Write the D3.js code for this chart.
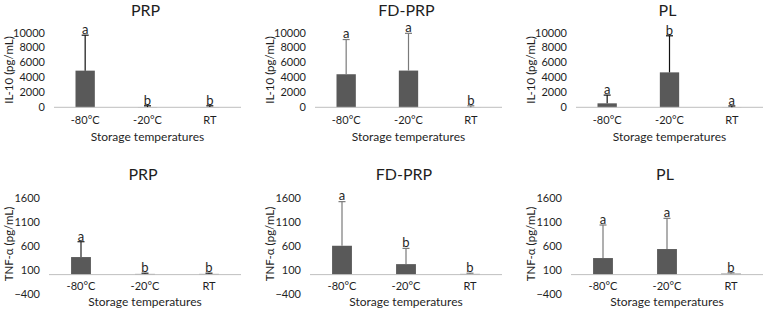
<!DOCTYPE html>
<html>
<head>
<meta charset="utf-8">
<script src="https://cdn.jsdelivr.net/npm/d3@7"></script>
<style>
  body { margin: 0; background: #fff; }
  text { font-family: Lato, "Open Sans", sans-serif; fill: #1f1f1f; }
</style>
</head>
<body>
<script>
// bar chart grid: IL-10 (top row) and TNF-a (bottom row) per product

var groups = ["PRP", "FD-PRP", "PL"];
var temps = ["-80°C", "-20°C", "RT"];

// IL-10 means and +SD, one row per group
var il10Mean = [[4900, 30, 30], [4420, 4910, 20], [530, 4670, 20]];
var il10Sd = [[4740, 170, 170], [4640, 4980, 180], [1100, 4890, 160]];
var il10Letters = [["a", "b", "b"], ["a", "a", "b"], ["a", "b", "a"]];
var il10Ticks = [0, 2000, 4000, 6000, 8000, 10000];

// TNF-a means and +SD
var tnfMean = [[368, 15, 15], [605, 220, 15], [347, 536, 20]];
var tnfSd = [[322, 15, 15], [925, 330, 15], [693, 644, 20]];
var tnfLetters = [["a", "b", "b"], ["a", "b", "b"], ["a", "a", "b"]];
var tnfTicks = [-400, 100, 600, 1100, 1600];

var W = 767, H = 313;
var panelStep = 261;

var svg = d3.select("body").append("svg")
    .attr("width", W)
    .attr("height", H);

var rows = [
  { mean: il10Mean, sd: il10Sd, letters: il10Letters, ticks: il10Ticks,
    domain: [0, 10000], yRange: [107.3, 32.5], x0: 54, x1: 241,
    titleY: 15.5, catY: 124, xTitleY: 141, tickRight: 45, yLabel: "IL-10 (pg/mL)", yLabelY: 70,
    errColor: ["#111", "#7a7a7a", "#111"] },
  { mean: tnfMean, sd: tnfSd, letters: tnfLetters, ticks: tnfTicks,
    domain: [-400, 1600], yRange: [293.7, 198.3], x0: 49, x1: 241,
    titleY: 180, catY: 290, xTitleY: 306, tickRight: 40, yLabel: "TNF-α (pg/mL)", yLabelY: 244,
    errColor: ["#222", "#7a7a7a", "#7a7a7a"] }
];

rows.forEach(function(row) {
  var y = d3.scaleLinear().domain(row.domain).range(row.yRange);

  groups.forEach(function(gName, gi) {
    var off = gi * panelStep;
    var g = svg.append("g").attr("transform", "translate(" + off + ",0)");

    var x = d3.scalePoint()
        .domain(temps)
        .range([row.x0, row.x1])
        .padding(0.5);
    var barW = x.step() * 0.31;

    // title
    g.append("text")
        .attr("x", (row.x0 + row.x1) / 2 - 2)
        .attr("y", row.titleY)
        .attr("text-anchor", "middle")
        .style("font-size", "16px")
        .text(gName);

    // y tick labels (no axis line)
    var yAxis = d3.axisLeft(y).tickValues(row.ticks).tickSize(0).tickPadding(0)
        .tickFormat(d3.format("d"));
    var ya = g.append("g")
        .attr("transform", "translate(" + row.tickRight + ",0)")
        .call(yAxis);
    ya.select(".domain").remove();
    ya.selectAll("text")
        .style("font-family", "Lato, sans-serif")
        .style("font-size", "11px")
        .attr("fill", "#1f1f1f");

    // y axis title
    g.append("text")
        .attr("transform", "translate(" + 13 + "," + row.yLabelY + ") rotate(-90)")
        .attr("text-anchor", "middle")
        .style("font-size", "11.5px")
        .text(row.yLabel);

    // bars
    g.selectAll(".bar")
        .data(temps)
        .enter().append("rect")
        .attr("class", "bar")
        .attr("x", function(d) { return x(d) - barW / 2; })
        .attr("width", barW)
        .attr("y", function(d, i) { return y(row.mean[gi][i]); })
        .attr("height", function(d, i) { return y(0) - y(row.mean[gi][i]); })
        .attr("fill", "#595959");

    // baseline at zero
    g.append("line")
        .attr("x1", row.x0).attr("x2", row.x1)
        .attr("y1", y(0)).attr("y2", y(0))
        .attr("stroke", "#bfbfbf")
        .attr("stroke-width", 1);

    // error bars (plus only)
    var col = row.errColor[gi];
    temps.forEach(function(t, i) {
      var top = y(row.mean[gi][i] + row.sd[gi][i]);
      var base = y(row.mean[gi][i]);
      g.append("line")
          .attr("x1", x(t)).attr("x2", x(t))
          .attr("y1", base).attr("y2", top)
          .attr("stroke", col).attr("stroke-width", 1.2);
      g.append("line")
          .attr("x1", x(t) - 3.5).attr("x2", x(t) + 3.5)
          .attr("y1", top).attr("y2", top)
          .attr("stroke", col).attr("stroke-width", 1.2);
      g.append("text")
          .attr("x", x(t))
          .attr("y", top - 1.2)
          .attr("text-anchor", "middle")
          .style("font-size", "13px")
          .text(row.letters[gi][i]);
    });

    // category labels
    g.selectAll(".cat")
        .data(temps)
        .enter().append("text")
        .attr("class", "cat")
        .attr("x", function(d) { return x(d); })
        .attr("y", row.catY)
        .attr("text-anchor", "middle")
        .style("font-size", "11px")
        .text(function(d) { return d; });

    // x axis title
    g.append("text")
        .attr("x", (row.x0 + row.x1) / 2)
        .attr("y", row.xTitleY)
        .attr("text-anchor", "middle")
        .style("font-size", "12px")
        .text("Storage temperatures");
  });
});
</script>
</body>
</html>
